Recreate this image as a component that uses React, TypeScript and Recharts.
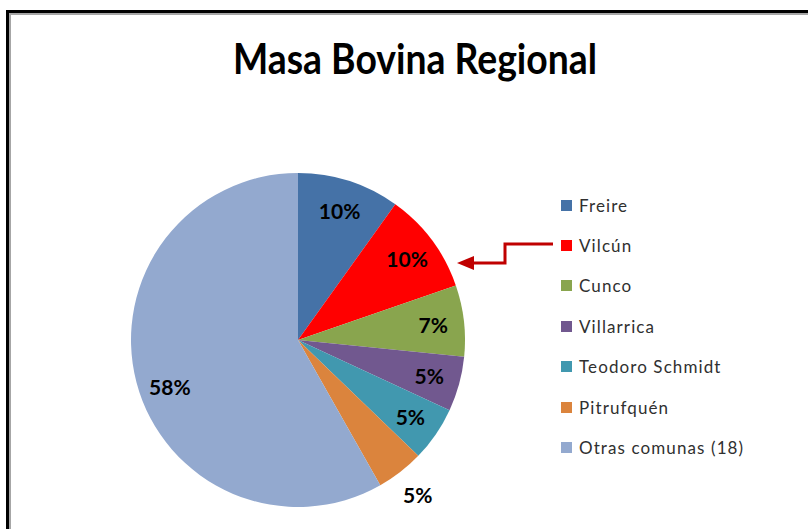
import React from "react";
import { PieChart, Pie, Cell, Legend, Customized } from "recharts";

const categories = ["Freire", "Vilcún", "Cunco", "Villarrica", "Teodoro Schmidt", "Pitrufquén", "Otras comunas (18)"];
const shares = [9.9, 9.8, 6.9, 5.3, 5.3, 4.6, 58.2];
const colors = ["#4572A7", "#FF0000", "#89A54E", "#71588F", "#4198AF", "#DB843D", "#93A9CF"];
const title = "Masa Bovina Regional";

const data = categories.map((name, i) => ({ name, value: shares[i] }));

const RAD = Math.PI / 180;

const renderLabel = (props: any) => {
  const { cx, cy, midAngle, outerRadius, percent, index } = props;
  const r = index === 5 ? outerRadius * 1.17 : outerRadius * 0.815;
  const angle = index === 6 ? midAngle + 5 : midAngle;
  const x = cx + r * Math.cos(-angle * RAD);
  const y = cy + r * Math.sin(-angle * RAD);
  return (
    <text x={x} y={y} textAnchor="middle" dominantBaseline="central" fill="#000" fontFamily="Lato" fontWeight={700} fontSize={21}>
      {`${Math.round(percent * 100)}%`}
    </text>
  );
};

const renderLegend = () => (
  <div style={{ fontFamily: "Lato", fontSize: 17, color: "#303030" }}>
    {categories.map((name, i) => (
      <div key={name} style={{ height: 40.4, display: "flex", alignItems: "center" }}>
        <div style={{ width: 11, height: 11, background: colors[i], marginRight: 7 }} />
        <span style={{ letterSpacing: 1.1 }}>{name}</span>
      </div>
    ))}
  </div>
);

const Extras = () => (
  <g>
    <text x={415} y={74} textAnchor="middle" fontFamily="Lato" fontWeight={700} fontSize={42} textLength={364} lengthAdjust="spacingAndGlyphs" fill="#000">
      {title}
    </text>
    <polyline points="553,244 505,244 505,263 470,263" fill="none" stroke="#C00000" strokeWidth={3} />
    <polygon points="457,263 474,256 474,270" fill="#C00000" />
  </g>
);

export default function App() {
  return (
    <div style={{ position: "absolute", left: 0, top: 0, width: 808, height: 529, overflow: "hidden", background: "#fff" }}>
      <div style={{ position: "absolute", left: 6, top: 10, width: 1000, height: 800, borderLeft: "3px solid #000", borderTop: "3px solid #000" }}>
        <div style={{ width: "100%", height: "100%", borderLeft: "2px solid #a6a6a6", borderTop: "2px solid #a6a6a6" }} />
      </div>
      <div style={{ position: "absolute", left: 0, top: 0 }}>
        <PieChart width={808} height={529} margin={{ top: 0, right: 0, bottom: 0, left: 0 }}>
          <Pie
            data={data}
            dataKey="value"
            nameKey="name"
            cx={298}
            cy={340}
            outerRadius={167}
            startAngle={90}
            endAngle={-270}
            stroke="none"
            label={renderLabel}
            labelLine={false}
            isAnimationActive={false}
          >
            {data.map((d, i) => (
              <Cell key={d.name} fill={colors[i]} />
            ))}
          </Pie>
          <Legend
            content={renderLegend}
            layout="vertical"
            wrapperStyle={{ position: "absolute", left: 561, top: 185, width: 240 }}
          />
          <Customized component={Extras} />
        </PieChart>
      </div>
    </div>
  );
}
